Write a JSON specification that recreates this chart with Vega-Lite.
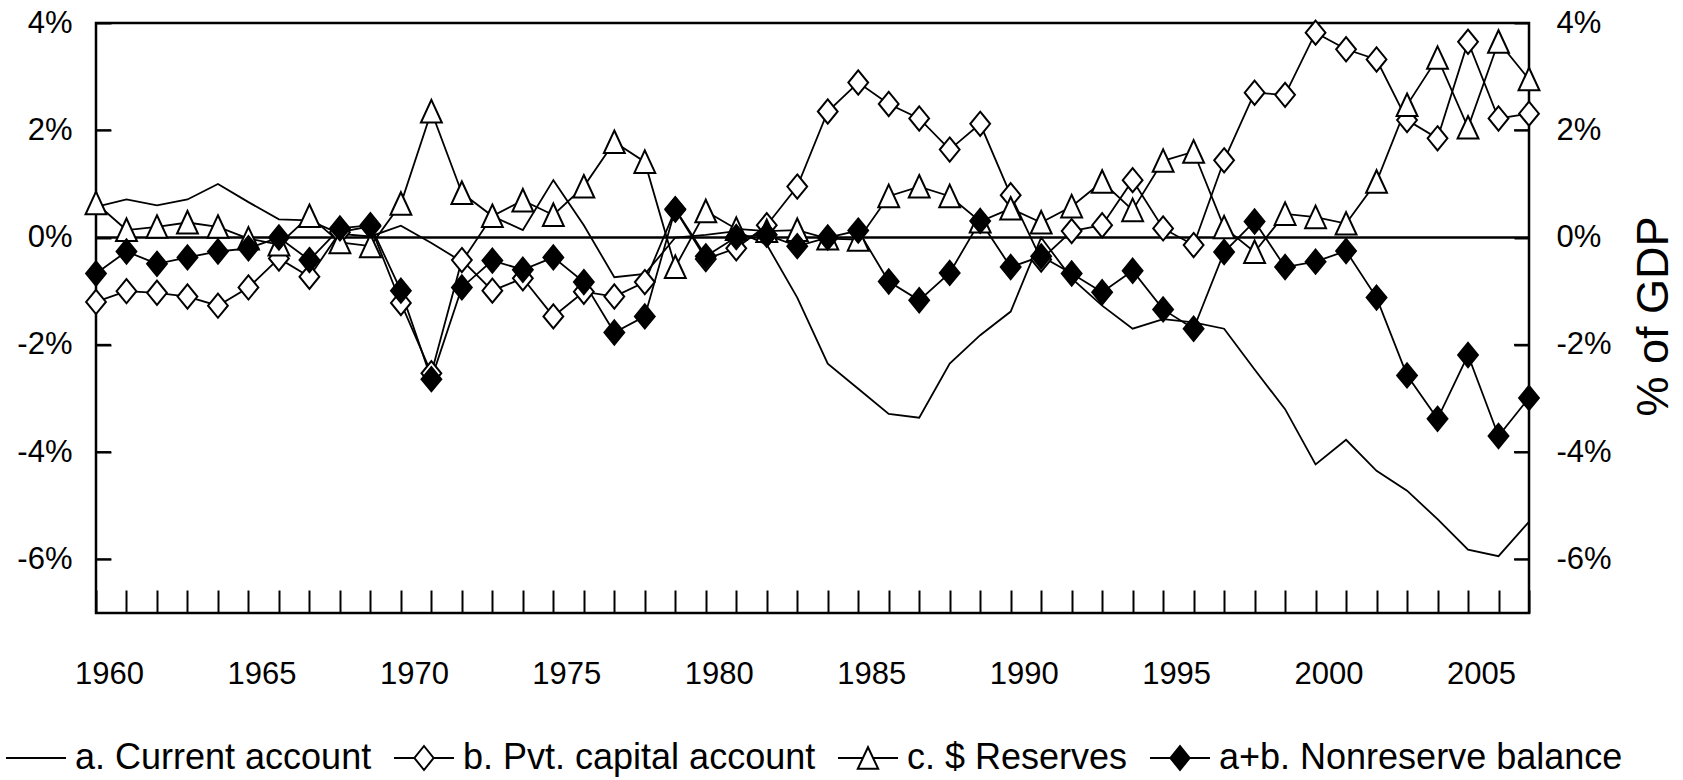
{
  "$schema": "https://vega.github.io/schema/vega-lite/v6.json",
  "width": 1433,
  "height": 590,
  "autosize": {"type": "none"},
  "padding": {"left": 96, "top": 23, "right": 154, "bottom": 167},
  "background": "white",
  "config": {
    "view": {"stroke": "black", "strokeWidth": 2.5},
    "font": "Liberation Sans",
    "axis": {"labelColor": "black", "tickColor": "black", "labelFont": "Liberation Sans", "ticks": true, "tickOpacity": 1}
  },
  "data": {
    "values": [
      {"year": 1960, "a": 0.57, "b": -1.20, "c": 0.64, "ab": -0.67},
      {"year": 1961, "a": 0.71, "b": -1.00, "c": 0.14, "ab": -0.26},
      {"year": 1962, "a": 0.60, "b": -1.03, "c": 0.20, "ab": -0.49},
      {"year": 1963, "a": 0.71, "b": -1.10, "c": 0.28, "ab": -0.37},
      {"year": 1964, "a": 1.00, "b": -1.27, "c": 0.20, "ab": -0.26},
      {"year": 1965, "a": 0.66, "b": -0.93, "c": -0.02, "ab": -0.20},
      {"year": 1966, "a": 0.34, "b": -0.39, "c": -0.13, "ab": 0.00},
      {"year": 1967, "a": 0.32, "b": -0.73, "c": 0.40, "ab": -0.42},
      {"year": 1968, "a": 0.07, "b": 0.10, "c": -0.09, "ab": 0.17},
      {"year": 1969, "a": 0.02, "b": 0.21, "c": -0.16, "ab": 0.23},
      {"year": 1970, "a": 0.22, "b": -1.22, "c": 0.63, "ab": -0.99},
      {"year": 1971, "a": -0.10, "b": -2.53, "c": 2.35, "ab": -2.64},
      {"year": 1972, "a": -0.45, "b": -0.42, "c": 0.83, "ab": -0.93},
      {"year": 1973, "a": 0.40, "b": -0.99, "c": 0.40, "ab": -0.43},
      {"year": 1974, "a": 0.14, "b": -0.76, "c": 0.69, "ab": -0.60},
      {"year": 1975, "a": 1.07, "b": -1.47, "c": 0.42, "ab": -0.37},
      {"year": 1976, "a": 0.23, "b": -1.01, "c": 0.95, "ab": -0.83},
      {"year": 1977, "a": -0.74, "b": -1.10, "c": 1.78, "ab": -1.77},
      {"year": 1978, "a": -0.68, "b": -0.83, "c": 1.41, "ab": -1.47},
      {"year": 1979, "a": 0.00, "b": 0.52, "c": -0.55, "ab": 0.53},
      {"year": 1980, "a": 0.05, "b": -0.40, "c": 0.49, "ab": -0.35},
      {"year": 1981, "a": 0.12, "b": -0.20, "c": 0.16, "ab": 0.01},
      {"year": 1982, "a": -0.13, "b": 0.23, "c": 0.12, "ab": 0.05},
      {"year": 1983, "a": -1.12, "b": 0.95, "c": 0.14, "ab": -0.16},
      {"year": 1984, "a": -2.35, "b": 2.35, "c": -0.02, "ab": 0.00},
      {"year": 1985, "a": -2.82, "b": 2.89, "c": -0.04, "ab": 0.13},
      {"year": 1986, "a": -3.29, "b": 2.49, "c": 0.77, "ab": -0.82},
      {"year": 1987, "a": -3.36, "b": 2.22, "c": 0.95, "ab": -1.17},
      {"year": 1988, "a": -2.35, "b": 1.64, "c": 0.77, "ab": -0.66},
      {"year": 1989, "a": -1.82, "b": 2.12, "c": 0.30, "ab": 0.31},
      {"year": 1990, "a": -1.38, "b": 0.79, "c": 0.54, "ab": -0.55},
      {"year": 1991, "a": 0.00, "b": -0.41, "c": 0.28, "ab": -0.35},
      {"year": 1992, "a": -0.76, "b": 0.12, "c": 0.58, "ab": -0.67},
      {"year": 1993, "a": -1.27, "b": 0.23, "c": 1.04, "ab": -1.02},
      {"year": 1994, "a": -1.70, "b": 1.07, "c": 0.51, "ab": -0.62},
      {"year": 1995, "a": -1.52, "b": 0.17, "c": 1.43, "ab": -1.34},
      {"year": 1996, "a": -1.58, "b": -0.14, "c": 1.60, "ab": -1.70},
      {"year": 1997, "a": -1.70, "b": 1.44, "c": 0.19, "ab": -0.27},
      {"year": 1998, "a": -2.46, "b": 2.70, "c": -0.27, "ab": 0.30},
      {"year": 1999, "a": -3.20, "b": 2.66, "c": 0.44, "ab": -0.55},
      {"year": 2000, "a": -4.23, "b": 3.82, "c": 0.38, "ab": -0.45},
      {"year": 2001, "a": -3.77, "b": 3.51, "c": 0.26, "ab": -0.25},
      {"year": 2002, "a": -4.35, "b": 3.32, "c": 1.04, "ab": -1.12},
      {"year": 2003, "a": -4.72, "b": 2.19, "c": 2.47, "ab": -2.57},
      {"year": 2004, "a": -5.25, "b": 1.85, "c": 3.35, "ab": -3.38},
      {"year": 2005, "a": -5.82, "b": 3.65, "c": 2.05, "ab": -2.19},
      {"year": 2006, "a": -5.94, "b": 2.22, "c": 3.65, "ab": -3.70},
      {"year": 2007, "a": -5.30, "b": 2.31, "c": 2.95, "ab": -2.99}
    ]
  },
  "transform": [{"fold": ["a", "b", "c", "ab"], "as": ["series", "value"]}],
  "layer": [
    {
      "data": {"values": [{}]},
      "transform": [],
      "mark": {"type": "rule", "stroke": "black", "strokeWidth": 2.5},
      "encoding": {
        "y": {"datum": 0, "type": "quantitative", "scale": {"domain": [-7, 4], "nice": false, "zero": false}, "axis": null}
      }
    },
    {
      "data": {"values": [
        {"edge": 1960, "tick": -6}, {"edge": 1960, "tick": -4}, {"edge": 1960, "tick": -2}, {"edge": 1960, "tick": 2},
        {"edge": 2007, "tick": -6}, {"edge": 2007, "tick": -4}, {"edge": 2007, "tick": -2}, {"edge": 2007, "tick": 2}
      ]},
      "transform": [],
      "mark": {"type": "point", "size": 900, "stroke": "black", "strokeWidth": 2, "filled": false, "opacity": 1},
      "encoding": {
        "x": {
          "field": "edge", "type": "quantitative",
          "scale": {"domain": [1960, 2007], "nice": false, "zero": false},
          "axis": {
            "orient": "bottom", "zindex": 2,
            "title": null,
            "values": [1960,1961,1962,1963,1964,1965,1966,1967,1968,1969,1970,1971,1972,1973,1974,1975,1976,1977,1978,1979,1980,1981,1982,1983,1984,1985,1986,1987,1988,1989,1990,1991,1992,1993,1994,1995,1996,1997,1998,1999,2000,2001,2002,2003,2004,2005,2006,2007],
            "format": "d",
            "labelExpr": "datum.value % 5 == 0 ? datum.label : ''",
            "domain": false, "grid": false, "ticks": true,
            "offset": -23, "tickSize": 23, "tickWidth": 2, "tickColor": "black",
            "labelFontSize": 31, "labelPadding": 61, "labelBaseline": "middle",
            "labelOffset": 13, "labelOverlap": false, "labelFlush": false
          }
        },
        "y": {"field": "tick", "type": "quantitative", "scale": {"domain": [-7, 4], "nice": false, "zero": false}, "axis": null},
        "shape": {
          "field": "edge", "type": "nominal",
          "scale": {"domain": [1960, 2007], "range": ["M0,0H1", "M0,0H-1"]},
          "legend": null
        }
      }
    },
    {
      "mark": {"type": "line", "stroke": "black", "strokeWidth": 1.8},
      "encoding": {
        "x": {
          "field": "year", "type": "quantitative",
          "scale": {"domain": [1960, 2007], "nice": false, "zero": false},
          "axis": {
            "orient": "bottom", "zindex": 2,
            "title": null,
            "values": [1960,1961,1962,1963,1964,1965,1966,1967,1968,1969,1970,1971,1972,1973,1974,1975,1976,1977,1978,1979,1980,1981,1982,1983,1984,1985,1986,1987,1988,1989,1990,1991,1992,1993,1994,1995,1996,1997,1998,1999,2000,2001,2002,2003,2004,2005,2006,2007],
            "format": "d",
            "labelExpr": "datum.value % 5 == 0 ? datum.label : ''",
            "domain": false, "grid": false, "ticks": true,
            "offset": -23, "tickSize": 23, "tickWidth": 2, "tickColor": "black",
            "labelFontSize": 31, "labelPadding": 61, "labelBaseline": "middle",
            "labelOffset": 13, "labelOverlap": false, "labelFlush": false
          }
        },
        "y": {
          "field": "value", "type": "quantitative",
          "scale": {"domain": [-7, 4], "nice": false, "zero": false},
          "axis": {
            "orient": "left", "title": null, "zindex": 2,
            "values": [-6, -4, -2, 0, 2, 4],
            "labelExpr": "datum.value + '%'",
            "domain": false, "grid": false, "ticks": true,
            "offset": -15, "tickSize": 15, "tickWidth": 2, "tickColor": "black",
            "labelFontSize": 31, "labelPadding": 24, "labelFlush": false
          }
        },
        "detail": {"field": "series"}
      }
    },
    {
      "transform": [{"filter": "datum.series != 'a'"}],
      "mark": {"type": "point", "stroke": "black", "strokeWidth": 2, "size": 484, "opacity": 1},
      "encoding": {
        "x": {
          "field": "year", "type": "quantitative",
          "scale": {"domain": [1960, 2007], "nice": false, "zero": false},
          "axis": {
            "orient": "bottom", "zindex": 2,
            "title": null,
            "values": [1960,1961,1962,1963,1964,1965,1966,1967,1968,1969,1970,1971,1972,1973,1974,1975,1976,1977,1978,1979,1980,1981,1982,1983,1984,1985,1986,1987,1988,1989,1990,1991,1992,1993,1994,1995,1996,1997,1998,1999,2000,2001,2002,2003,2004,2005,2006,2007],
            "format": "d",
            "labelExpr": "datum.value % 5 == 0 ? datum.label : ''",
            "domain": false, "grid": false, "ticks": true,
            "offset": -23, "tickSize": 23, "tickWidth": 2, "tickColor": "black",
            "labelFontSize": 31, "labelPadding": 61, "labelBaseline": "middle",
            "labelOffset": 13, "labelOverlap": false, "labelFlush": false
          }
        },
        "y": {
          "field": "value", "type": "quantitative",
          "scale": {"domain": [-7, 4], "nice": false, "zero": false},
          "axis": {
            "orient": "right", "zindex": 2,
            "title": "% of GDP",
            "titleFont": "Liberation Sans", "titleFontSize": 45, "titleFontWeight": "normal", "titleColor": "black",
            "titleAngle": 270, "titleX": 139, "titleY": 293, "titleAlign": "center", "titleBaseline": "middle",
            "values": [-6, -4, -2, 0, 2, 4],
            "labelExpr": "datum.value + '%'",
            "domain": false, "grid": false, "ticks": true,
            "offset": -15, "tickSize": 15, "tickWidth": 2, "tickColor": "black",
            "labelFontSize": 31, "labelPadding": 27, "labelFlush": false
          }
        },
        "shape": {
          "field": "series", "type": "nominal",
          "scale": {"domain": ["b", "c", "ab"], "range": ["M0,-1.1L0.9,0L0,1.1L-0.9,0Z", "M0,-1.05L0.95,1L-0.95,1Z", "M0,-1.1L0.9,0L0,1.1L-0.9,0Z"]},
          "legend": null
        },
        "fill": {
          "field": "series", "type": "nominal",
          "scale": {"domain": ["b", "c", "ab"], "range": ["white", "white", "black"]},
          "legend": null
        }
      }
    },
    {
      "mark": {"type": "point", "stroke": "black", "strokeWidth": 2, "opacity": 0},
      "encoding": {
        "x": {
          "field": "year", "type": "quantitative",
          "scale": {"domain": [1960, 2007], "nice": false, "zero": false},
          "axis": {
            "orient": "bottom", "zindex": 2,
            "title": null,
            "values": [1960,1961,1962,1963,1964,1965,1966,1967,1968,1969,1970,1971,1972,1973,1974,1975,1976,1977,1978,1979,1980,1981,1982,1983,1984,1985,1986,1987,1988,1989,1990,1991,1992,1993,1994,1995,1996,1997,1998,1999,2000,2001,2002,2003,2004,2005,2006,2007],
            "format": "d",
            "labelExpr": "datum.value % 5 == 0 ? datum.label : ''",
            "domain": false, "grid": false, "ticks": true,
            "offset": -23, "tickSize": 23, "tickWidth": 2, "tickColor": "black",
            "labelFontSize": 31, "labelPadding": 61, "labelBaseline": "middle",
            "labelOffset": 13, "labelOverlap": false, "labelFlush": false
          }
        },
        "y": {"field": "value", "type": "quantitative", "scale": {"domain": [-7, 4], "nice": false, "zero": false}, "axis": null},
        "shape": {
          "field": "series", "type": "nominal",
          "scale": {"domain": ["a", "b", "c", "ab"], "range": [
            "M-1,0H1",
            "M-1,0H-0.32M0.32,0H1M0,-0.4L0.32,0L0,0.4L-0.32,0Z",
            "M-1,0H-0.17M0.17,0H1M0,-0.36L0.34,0.36L-0.34,0.36Z",
            "M-1,0H-0.32M0.32,0H1M0,-0.4L0.32,0L0,0.4L-0.32,0Z"
          ]},
          "legend": {
            "orient": "none", "legendX": -91, "legendY": 704, "direction": "horizontal",
            "title": null, "padding": 0,
            "labelFont": "Liberation Sans", "labelFontSize": 36, "labelColor": "black", "labelLimit": 0,
            "labelOffset": 8, "columnPadding": 18,
            "symbolSize": 3600, "symbolStrokeWidth": 2, "symbolStrokeColor": "black", "symbolOpacity": 1,
            "labelExpr": "datum.label == 'a' ? 'a. Current account' : datum.label == 'b' ? 'b. Pvt. capital account' : datum.label == 'c' ? 'c. $ Reserves' : 'a+b. Nonreserve balance'",
            "encode": {"symbols": {"update": {"stroke": {"value": "black"}, "strokeWidth": {"value": 2}, "opacity": {"value": 1}}}}
          }
        },
        "fill": {
          "field": "series", "type": "nominal",
          "scale": {"domain": ["a", "b", "c", "ab"], "range": ["white", "white", "white", "black"]},
          "legend": {
            "orient": "none", "legendX": -91, "legendY": 704, "direction": "horizontal",
            "title": null, "padding": 0,
            "labelFont": "Liberation Sans", "labelFontSize": 36, "labelColor": "black", "labelLimit": 0,
            "labelOffset": 8, "columnPadding": 18,
            "symbolSize": 3600, "symbolStrokeWidth": 2, "symbolStrokeColor": "black", "symbolOpacity": 1,
            "labelExpr": "datum.label == 'a' ? 'a. Current account' : datum.label == 'b' ? 'b. Pvt. capital account' : datum.label == 'c' ? 'c. $ Reserves' : 'a+b. Nonreserve balance'",
            "encode": {"symbols": {"update": {"stroke": {"value": "black"}, "strokeWidth": {"value": 2}, "opacity": {"value": 1}}}}
          }
        }
      }
    }
  ],
  "resolve": {"scale": {"shape": "independent", "fill": "independent"}, "axis": {"y": "independent"}}
}
